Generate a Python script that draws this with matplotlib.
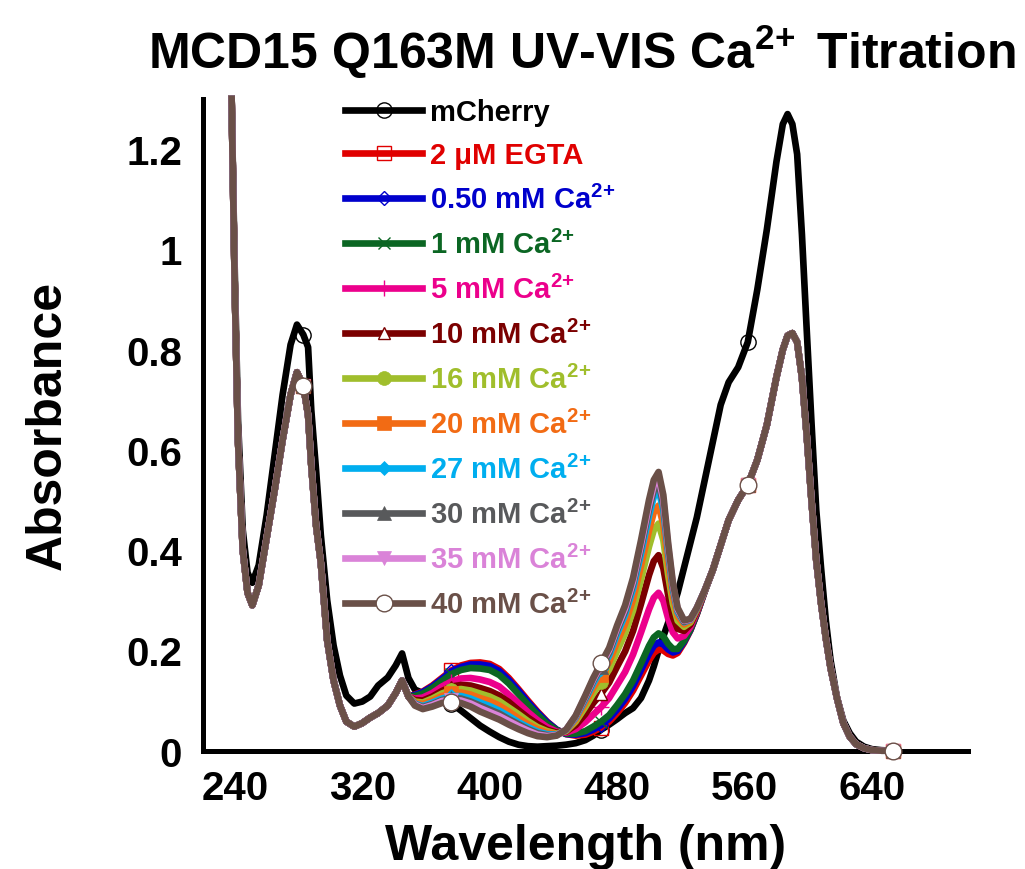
import matplotlib
matplotlib.use('Agg')
import matplotlib.pyplot as plt
import numpy as np

plt.rcParams['font.family'] = ['Liberation Sans', 'DejaVu Sans']
plt.rcParams['font.weight'] = 'bold'
plt.rcParams['mathtext.fontset'] = 'custom'
plt.rcParams['mathtext.rm'] = 'Liberation Sans:bold'
plt.rcParams['mathtext.it'] = 'Liberation Sans:bold'
plt.rcParams['mathtext.bf'] = 'Liberation Sans:bold'

# wavelength grid (nm)
wl = [238, 240, 242, 245, 248, 251, 255, 260, 265, 270, 275, 279, 283, 286, 288,
      291, 294, 298, 302, 306, 310, 315, 320, 325, 330, 336, 341, 345, 349,
      353, 358, 364, 370, 376, 382, 388, 394, 400, 406, 412, 418, 424, 430, 436,
      442, 448, 454, 460, 465, 470, 475, 480, 485, 490, 495, 500, 503, 506, 509,
      512, 515, 518, 522, 526, 530, 535,
      540, 545, 550, 556, 562, 568, 574, 580, 584, 587, 590, 593, 596, 599, 602,
      605, 608, 611, 614, 618, 622, 626, 630, 635, 640, 646, 653]

mcherry = [1.30, 0.95, 0.66, 0.44, 0.355, 0.335, 0.37, 0.47, 0.59, 0.71, 0.81, 0.85, 0.83, 0.805, 0.68,
           0.56, 0.43, 0.30, 0.21, 0.15, 0.11, 0.094, 0.098, 0.108, 0.13, 0.146, 0.17, 0.194, 0.145,
           0.122, 0.115, 0.115, 0.105, 0.094, 0.08, 0.065, 0.05, 0.038, 0.027, 0.018, 0.012, 0.009, 0.008, 0.009,
           0.010, 0.012, 0.015, 0.021, 0.03, 0.042, 0.052, 0.063, 0.075, 0.085, 0.105, 0.14, 0.168, 0.200, 0.228,
           0.255, 0.285, 0.315, 0.365, 0.415, 0.465, 0.54,
           0.615, 0.69, 0.735, 0.765, 0.815, 0.92, 1.04, 1.175, 1.25, 1.27, 1.25, 1.19, 1.03, 0.84, 0.655,
           0.48, 0.365, 0.26, 0.18, 0.106, 0.06, 0.035, 0.018, 0.008, 0.003, 0.001, 0.0]

# 40 mM Ca2+ (the other titration points overlap it outside 353-535 nm)
ca40 = [1.30, 0.92, 0.62, 0.40, 0.315, 0.29, 0.33, 0.425, 0.52, 0.62, 0.71, 0.755, 0.728, 0.67, 0.57,
        0.45, 0.375, 0.22, 0.14, 0.09, 0.058, 0.048, 0.055, 0.066, 0.075, 0.09, 0.115, 0.14, 0.108,
        0.090, 0.083, 0.088, 0.095, 0.098, 0.095, 0.088, 0.078, 0.070, 0.062, 0.052, 0.043, 0.035, 0.029, 0.027,
        0.030, 0.042, 0.070, 0.110, 0.145, 0.175, 0.205, 0.250, 0.290, 0.345, 0.420, 0.500, 0.540, 0.556, 0.510,
        0.415, 0.335, 0.285, 0.260, 0.263, 0.285, 0.320,
        0.36, 0.41, 0.46, 0.50, 0.53, 0.58, 0.65, 0.745, 0.80, 0.828, 0.833, 0.815, 0.745, 0.63, 0.50,
        0.38, 0.295, 0.225, 0.165, 0.105, 0.055, 0.028, 0.013, 0.005, 0.001, 0.0, 0.0]

# titration curves where they split apart (353-535 nm)
win_lo, win_hi = 353, 535
egta_win = [0.112, 0.118, 0.130, 0.145, 0.160, 0.170, 0.175, 0.176, 0.173, 0.163, 0.145, 0.123, 0.100, 0.078, 0.058,
            0.042, 0.033, 0.030, 0.032, 0.038, 0.046, 0.058, 0.075, 0.095, 0.120, 0.150, 0.180, 0.195, 0.202, 0.200,
            0.193, 0.190, 0.195, 0.215, 0.240, 0.272, 0.318]
ca050_win = [0.111, 0.117, 0.128, 0.143, 0.158, 0.167, 0.172, 0.172, 0.169, 0.159, 0.141, 0.120, 0.097, 0.076, 0.057,
             0.042, 0.033, 0.032, 0.035, 0.042, 0.051, 0.064, 0.082, 0.103, 0.129, 0.161, 0.193, 0.209, 0.216, 0.212,
             0.202, 0.196, 0.199, 0.217, 0.241, 0.273, 0.318]
ca1_win = [0.109, 0.114, 0.125, 0.139, 0.153, 0.161, 0.165, 0.164, 0.161, 0.151, 0.134, 0.113, 0.092, 0.072, 0.054,
           0.041, 0.034, 0.034, 0.039, 0.048, 0.058, 0.071, 0.091, 0.113, 0.140, 0.174, 0.209, 0.226, 0.234, 0.228,
           0.213, 0.203, 0.203, 0.219, 0.242, 0.273, 0.318]
ca5_win = [0.104, 0.106, 0.115, 0.128, 0.138, 0.144, 0.145, 0.142, 0.137, 0.128, 0.112, 0.095, 0.077, 0.061, 0.047,
           0.038, 0.036, 0.043, 0.057, 0.072, 0.087, 0.105, 0.131, 0.157, 0.192, 0.236, 0.282, 0.305, 0.315, 0.299,
           0.264, 0.236, 0.224, 0.229, 0.247, 0.276, 0.319]
ca10_win = [0.101, 0.100, 0.108, 0.119, 0.128, 0.131, 0.130, 0.125, 0.119, 0.110, 0.097, 0.081, 0.066, 0.053, 0.042,
            0.036, 0.038, 0.051, 0.073, 0.095, 0.114, 0.136, 0.168, 0.198, 0.239, 0.293, 0.350, 0.378, 0.390, 0.364,
            0.311, 0.267, 0.243, 0.239, 0.252, 0.279, 0.319]
ca16_win = [0.098, 0.096, 0.104, 0.114, 0.121, 0.123, 0.120, 0.114, 0.108, 0.099, 0.086, 0.073, 0.059, 0.047, 0.039,
            0.034, 0.039, 0.058, 0.087, 0.114, 0.138, 0.162, 0.199, 0.234, 0.280, 0.342, 0.407, 0.440, 0.453, 0.420,
            0.351, 0.293, 0.259, 0.247, 0.256, 0.281, 0.319]
ca20_win = [0.096, 0.093, 0.100, 0.109, 0.115, 0.116, 0.112, 0.105, 0.099, 0.090, 0.078, 0.065, 0.053, 0.043, 0.036,
            0.033, 0.040, 0.062, 0.095, 0.125, 0.151, 0.177, 0.217, 0.253, 0.302, 0.369, 0.439, 0.475, 0.489, 0.451,
            0.373, 0.308, 0.268, 0.252, 0.259, 0.283, 0.320]
ca27_win = [0.094, 0.089, 0.096, 0.104, 0.109, 0.109, 0.104, 0.096, 0.089, 0.080, 0.069, 0.057, 0.047, 0.038, 0.033,
            0.032, 0.041, 0.066, 0.102, 0.134, 0.162, 0.190, 0.233, 0.271, 0.323, 0.393, 0.468, 0.506, 0.521, 0.479,
            0.393, 0.321, 0.276, 0.256, 0.261, 0.284, 0.320]
ca30_win = [0.093, 0.087, 0.093, 0.101, 0.105, 0.104, 0.098, 0.090, 0.082, 0.074, 0.063, 0.053, 0.043, 0.035, 0.031,
            0.031, 0.042, 0.068, 0.105, 0.139, 0.167, 0.196, 0.240, 0.278, 0.332, 0.404, 0.481, 0.519, 0.535, 0.491,
            0.402, 0.326, 0.280, 0.257, 0.262, 0.284, 0.320]
ca35_win = [0.092, 0.085, 0.091, 0.099, 0.102, 0.100, 0.094, 0.085, 0.077, 0.069, 0.059, 0.049, 0.040, 0.032, 0.029,
            0.031, 0.042, 0.069, 0.108, 0.142, 0.171, 0.201, 0.245, 0.284, 0.338, 0.412, 0.490, 0.530, 0.545, 0.501,
            0.408, 0.331, 0.282, 0.259, 0.262, 0.285, 0.320]

ca = r'Ca$^{2\!+}$'
labels = ['mCherry', '2 μM EGTA', '0.50 mM ' + ca, '1 mM ' + ca, '5 mM ' + ca,
          '10 mM ' + ca, '16 mM ' + ca, '20 mM ' + ca, '27 mM ' + ca,
          '30 mM ' + ca, '35 mM ' + ca, '40 mM ' + ca]
windows = [None, egta_win, ca050_win, ca1_win, ca5_win, ca10_win, ca16_win, ca20_win,
           ca27_win, ca30_win, ca35_win, None]

colors = ['#000000', '#E00000', '#0000CC', '#0B6623', '#EC008C', '#7B0000', '#A0BE2C',
          '#F26B14', '#00AEEF', '#58595B', '#DA83D8', '#6A5048']
markers = ['o', 's', 'D', 'x', '+', '^', 'o', 's', 'D', '^', 'v', 'o']
mfaces = ['none', 'none', 'none', None, None, 'white', None, None, None, None, None, 'white']
msizes = [11, 10, 7, 9, 12, 9, 10, 10, 7, 10, 10, 12]
mark_wl = [283, 376, 470, 562, 653]

wl_arr = np.array(wl)
i0 = wl.index(win_lo)
i1 = wl.index(win_hi) + 1
mark_idx = [wl.index(w) for w in mark_wl]

fig, ax = plt.subplots(figsize=(10.25, 8.7), dpi=100)
fig.subplots_adjust(left=0.198, right=0.944, bottom=0.136, top=0.885)

for k, lab in enumerate(labels):
    if k == 0:
        y = np.array(mcherry)
    else:
        y = np.array(ca40, dtype=float)
        if windows[k] is not None:
            y[i0:i1] = windows[k]
    fc = mfaces[k] if mfaces[k] is not None else colors[k]
    mew = 1.0 if mfaces[k] is not None or markers[k] in ('x', '+') else 0.5
    ax.plot(wl_arr, y, color=colors[k], lw=4.8, label=lab, marker=markers[k],
            markevery=mark_idx, markersize=msizes[k], markerfacecolor=fc,
            markeredgecolor=colors[k], markeredgewidth=mew, clip_on=False,
            solid_joinstyle='round', zorder=3 + k * 0.01)

ax.set_xlim(220, 700)
ax.set_ylim(0, 1.3)
ax.set_xticks([240, 320, 400, 480, 560, 640])
ax.set_yticks([0, 0.2, 0.4, 0.6, 0.8, 1.0, 1.2])
ax.set_yticklabels(['0', '0.2', '0.4', '0.6', '0.8', '1', '1.2'])
ax.tick_params(length=0, labelsize=29)
ax.tick_params(axis='y', pad=15)
ax.tick_params(axis='x', pad=13)
for lbl in ax.get_xticklabels() + ax.get_yticklabels():
    lbl.set_fontweight('bold')

for s in ['top', 'right']:
    ax.spines[s].set_visible(False)
for s in ['left', 'bottom']:
    ax.spines[s].set_linewidth(3.6)

ax.set_xlabel('Wavelength (nm)', fontsize=36, fontweight='bold', labelpad=12)
ax.set_ylabel('Absorbance', fontsize=36, fontweight='bold', labelpad=40)
ax.set_title('MCD15 Q163M UV-VIS ' + ca + ' Titration', fontsize=36, fontweight='bold',
             pad=22, x=0.495)

leg = ax.legend(loc='upper left', bbox_to_anchor=(0.186, 1.002), frameon=False,
                prop={'size': 21, 'weight': 'bold'}, handlelength=2.65, handletextpad=0.25,
                labelspacing=0.54, borderpad=0, borderaxespad=0)
for txt, c in zip(leg.get_texts(), colors):
    txt.set_color(c)

plt.savefig('out.png', dpi=100)
